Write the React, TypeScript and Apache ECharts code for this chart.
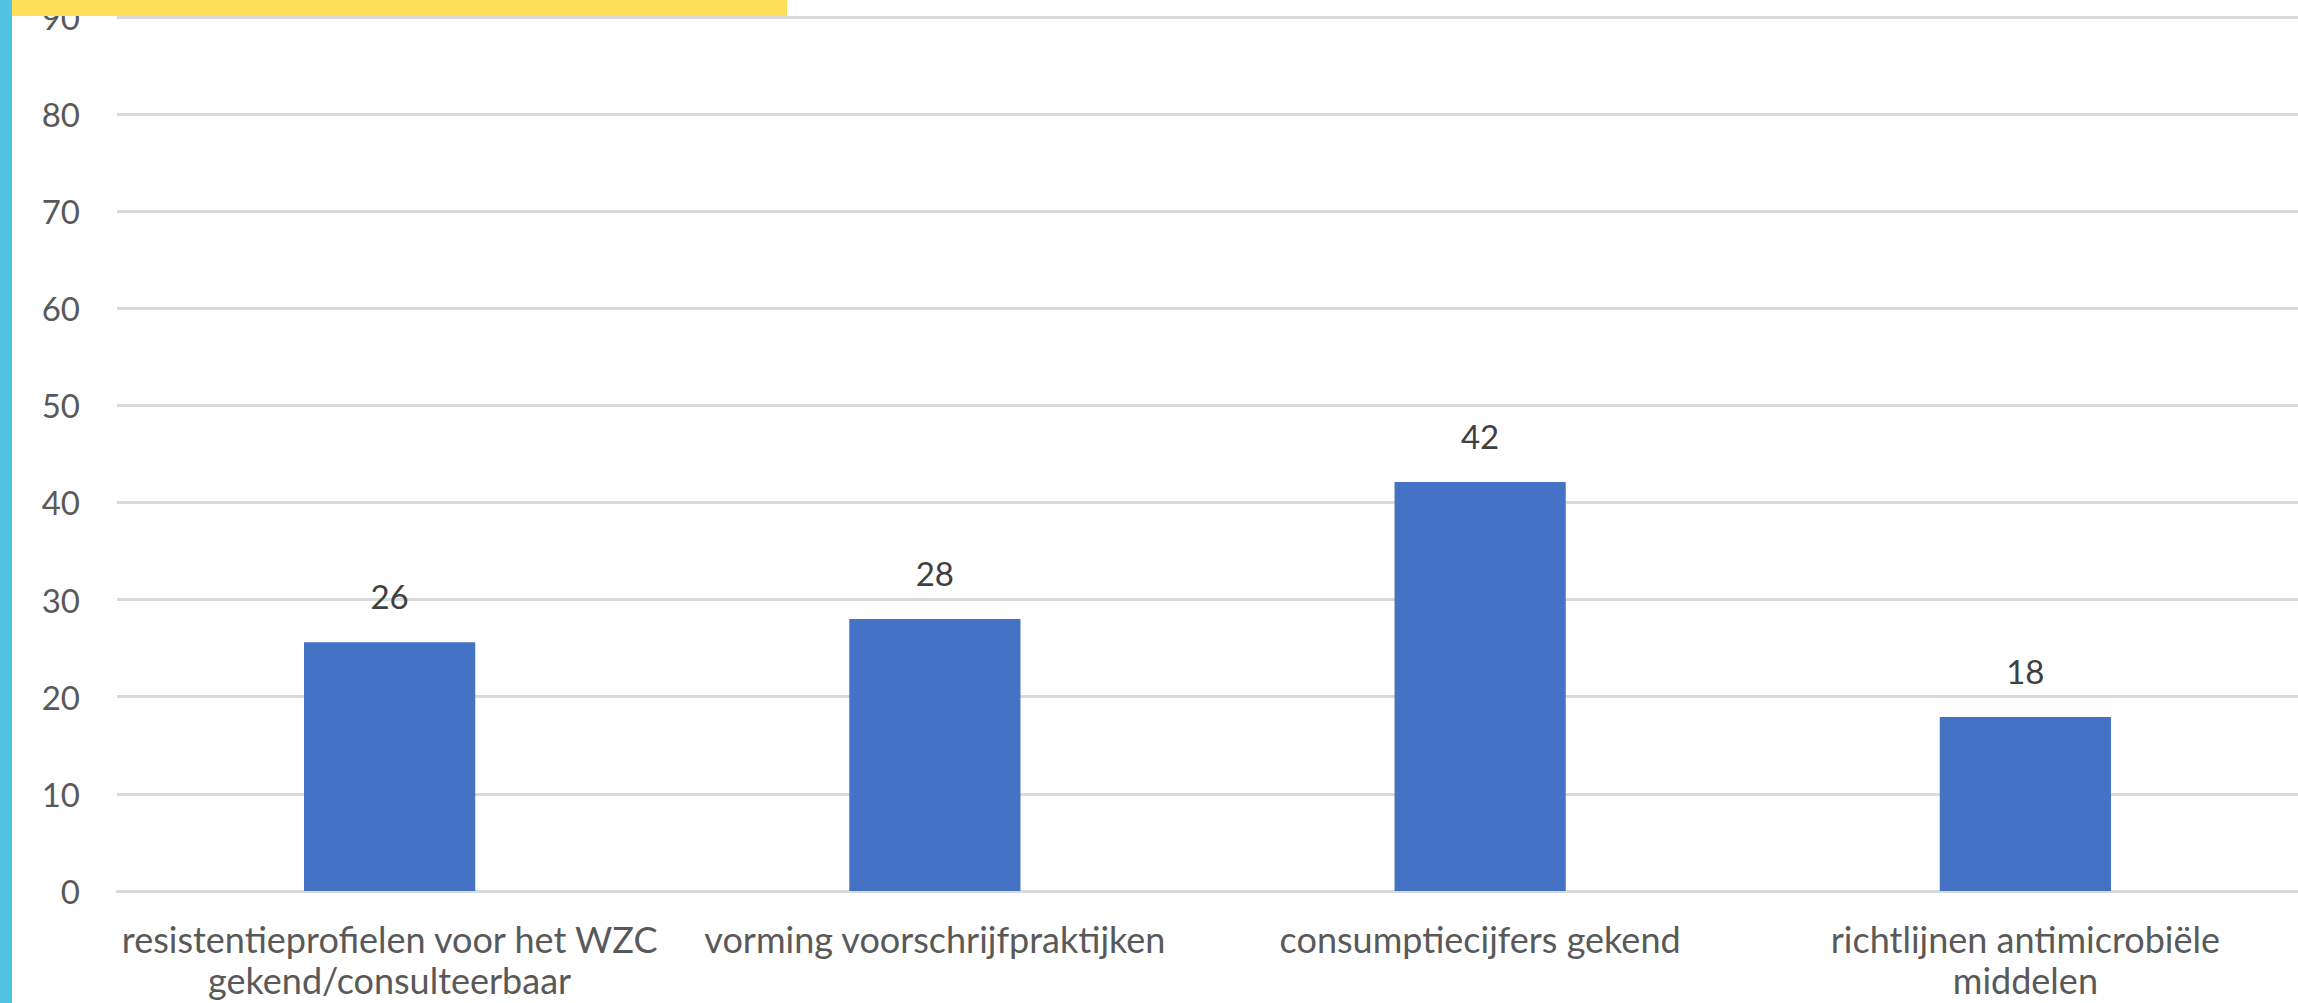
import React, { useEffect, useRef } from "react";
import * as echarts from "echarts";

const categories = [
  "resistentieprofielen voor het WZC\ngekend/consulteerbaar",
  "vorming voorschrijfpraktijken",
  "consumptiecijfers gekend",
  "richtlijnen antimicrobiële\nmiddelen",
];
const values = [25.6, 28, 42.1, 17.9];
const yMin = 0;
const yMax = 90;
const yStep = 10;

const FONT = "Lato";

export default function App() {
  const ref = useRef<HTMLDivElement>(null);
  useEffect(() => {
    document.body.style.margin = "0";
    const chart = echarts.init(ref.current!, null, { renderer: "svg" });
    chart.setOption({
      animation: false,
      backgroundColor: "#ffffff",
      textStyle: { fontFamily: FONT },
      grid: { left: 117, right: 0, top: 16.75, bottom: 112, containLabel: false },
      xAxis: {
        type: "category",
        data: categories,
        axisLine: { show: true, lineStyle: { color: "#D9D9D9", width: 3 } },
        axisTick: { show: false },
        axisLabel: {
          interval: 0,
          color: "#595959",
          fontSize: 36,
          fontFamily: FONT,
          lineHeight: 41,
          margin: 27,
        },
      },
      yAxis: {
        type: "value",
        min: yMin,
        max: yMax,
        interval: yStep,
        axisLine: { show: false },
        axisTick: { show: false },
        splitLine: { show: true, lineStyle: { color: "#D9D9D9", width: 3 } },
        axisLabel: { color: "#595959", fontSize: 33, fontFamily: FONT, margin: 37 },
      },
      series: [
        {
          type: "bar",
          data: values,
          barWidth: "31.4%",
          itemStyle: { color: "#4472C4" },
          label: {
            show: true,
            position: "top",
            distance: 30,
            color: "#404040",
            fontSize: 33,
            fontFamily: FONT,
            formatter: (p: any) => String(Math.round(p.value)),
          },
        },
      ],
      graphic: [
        {
          type: "rect",
          left: 0,
          top: 0,
          z: 100,
          shape: { x: 0, y: 0, width: 787, height: 16 },
          style: { fill: "#FFDE59" },
        },
        {
          type: "rect",
          left: 0,
          top: 0,
          z: 100,
          shape: { x: 0, y: 0, width: 12, height: 1003 },
          style: { fill: "#4FC3E0" },
        },
      ],
    });
    return () => chart.dispose();
  }, []);
  return (
    <div
      ref={ref}
      style={{ position: "fixed", left: 0, top: 0, width: 2298, height: 1003 }}
    />
  );
}
